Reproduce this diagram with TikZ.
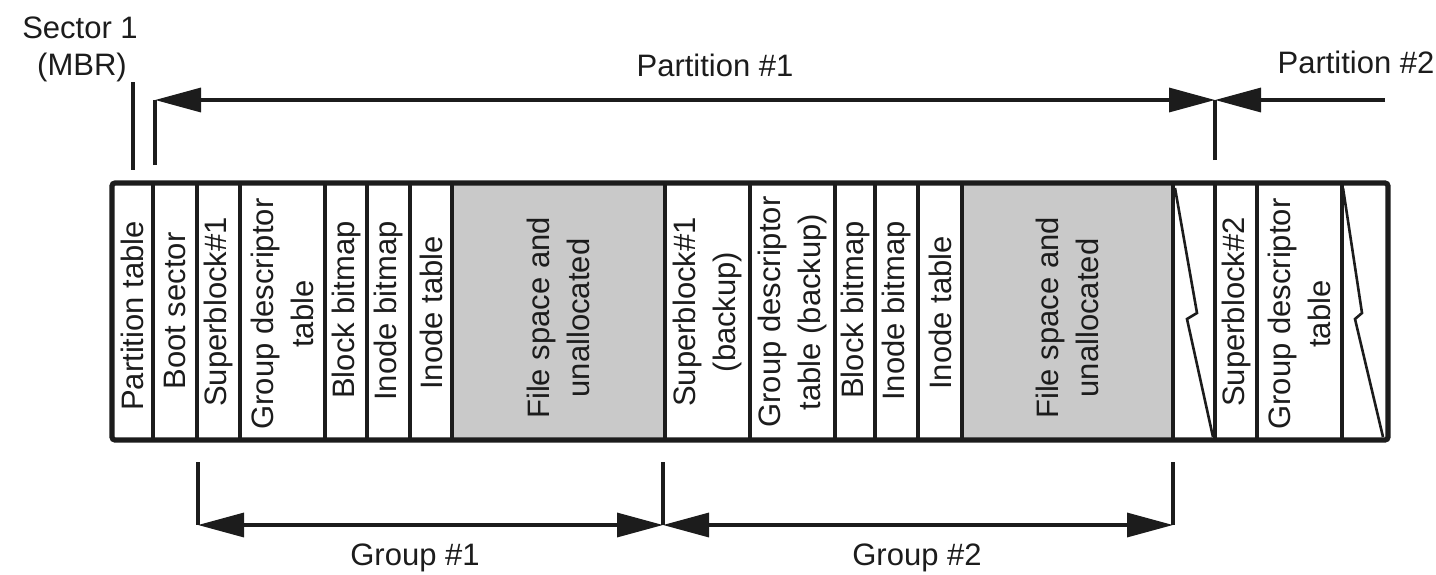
\documentclass[tikz,border=0pt]{standalone}
\usepackage{fontspec}
\setmainfont{Liberation Sans}
\usetikzlibrary{arrows.meta}
\definecolor{cellgray}{RGB}{201,201,201}
\definecolor{ink}{RGB}{28,28,28}
\tikzset{
  lbl/.style={font=\fontsize{15.5}{20}\selectfont, text=ink, inner sep=0pt, anchor=base},
  celltext/.style={font=\fontsize{15.5}{20}\selectfont, text=ink, inner sep=0pt, rotate=90, align=center},
  outerbox/.style={draw=ink, line width=2.6pt, rounded corners=1.5pt},
  divthick/.style={draw=ink, line width=2.2pt},
  divthin/.style={draw=ink, line width=1.6pt},
  zig/.style={draw=ink, line width=1.3pt, line join=miter},
  dimline/.style={draw=ink, line width=1.7pt},
  dimarrow/.style={draw=ink, line width=1.7pt, -{Triangle[length=23pt,width=12pt]}},
  dimboth/.style={draw=ink, line width=1.7pt, {Triangle[length=23pt,width=12pt]}-{Triangle[length=23pt,width=12pt]}},
}
\begin{document}
\begin{tikzpicture}[x=0.5pt,y=-0.5pt]
\useasboundingbox (0,0) rectangle (1436,574);

% gray file space areas
\fill[cellgray] (452,183) rectangle (665,440);
\fill[cellgray] (962,183) rectangle (1173,440);

% dividers
\draw[divthick] (153,183) -- (153,440);
\draw[divthick] (197,183) -- (197,440);
\foreach \x in {240,325,367,410,452,665,750,835,875,918,962,1173,1215,1257,1342}
  \draw[divthin] (\x,183) -- (\x,440);

% break (zigzag) marks
\draw[zig] (1175,188) -- (1197,313) -- (1187,319) -- (1213,437);
\draw[zig] (1343,188) -- (1362,313) -- (1355,319) -- (1383,437);

% outer box
\draw[outerbox] (112,183) rectangle (1388,440);

% cell labels
\node[celltext] (pt)   at (132.5,316) {Partition table};
\node[celltext] (bs)   at (175,311)   {Boot sector};
\node[celltext] (sb1)  at (218.5,312) {Superblock\#1};
\node[celltext] (gdt1) at (282.5,314) {Group descriptor\\table};
\node[celltext] (bb1)  at (346,310)   {Block bitmap};
\node[celltext] (ib1)  at (388.5,311) {Inode bitmap};
\node[celltext] (it1)  at (431,313)   {Inode table};
\node[celltext] (fs1)  at (558.5,318) {File space and\\unallocated};
\node[celltext] (sbb)  at (707.5,312) {Superblock\#1\\(backup)};
\node[celltext] (gdtb) at (792.5,312) {Group descriptor\\table (backup)};
\node[celltext] (bb2)  at (855,310)   {Block bitmap};
\node[celltext] (ib2)  at (896.5,311) {Inode bitmap};
\node[celltext] (it2)  at (940,313)   {Inode table};
\node[celltext] (fs2)  at (1067.5,318) {File space and\\unallocated};
\node[celltext] (sb2)  at (1236,312)  {Superblock\#2};
\node[celltext] (gdt2) at (1299.5,314) {Group descriptor\\table};

% top labels
\node[lbl] (sec)  at (80,38)   {Sector 1};
\node[lbl] (mbr)  at (82,75)   {(MBR)};
\node[lbl] (p1)   at (715,76)  {Partition \#1};
\node[lbl] (p2)   at (1356,73) {Partition \#2};

% top dimension coordinates
\coordinate (mbrT) at (133,82);
\coordinate (mbrB) at (133,170);
\coordinate (p1L)  at (155,100);
\coordinate (p1Lb) at (155,165);
\coordinate (p1R)  at (1215,100);
\coordinate (p1Rb) at (1215,160);
\coordinate (p2R)  at (1385,100);

\draw[dimline] (mbrT) -- (mbrB);
\draw[dimline] (p1Lb) -- (p1L);
\draw[dimline] (p1Rb) -- (p1R);
\draw[dimboth] (p1L) -- (p1R);
\draw[dimarrow] (p2R) -- (p1R);

% bottom dimension coordinates
\coordinate (g1L)  at (198,525);
\coordinate (g1Lt) at (198,462);
\coordinate (g1R)  at (663,525);
\coordinate (g1Rt) at (663,462);
\coordinate (g2R)  at (1173,525);
\coordinate (g2Rt) at (1173,462);

\draw[dimline] (g1Lt) -- (g1L);
\draw[dimline] (g1Rt) -- (g1R);
\draw[dimline] (g2Rt) -- (g2R);
\draw[dimboth] (g1L) -- (g1R);
\draw[dimboth] (g1R) -- (g2R);

\node[lbl] (g1) at (415,565) {Group \#1};
\node[lbl] (g2) at (917,565) {Group \#2};
\end{tikzpicture}
\end{document}
